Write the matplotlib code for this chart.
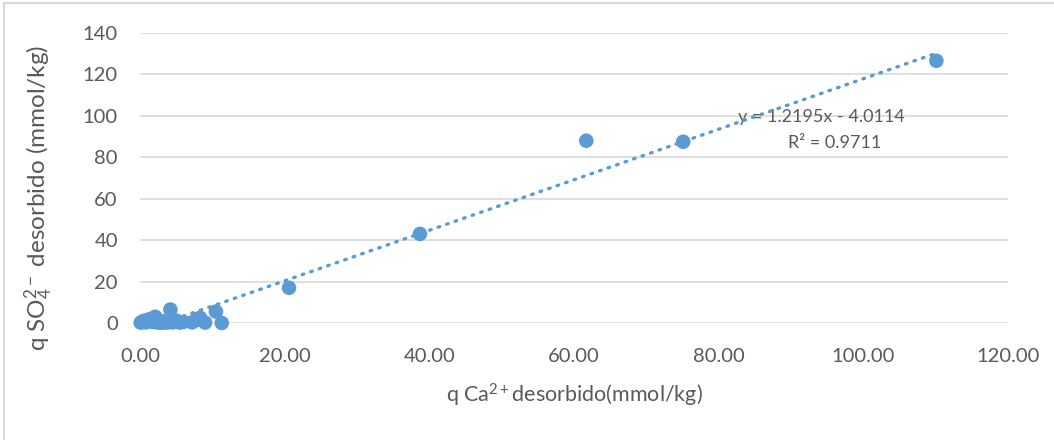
import matplotlib
matplotlib.use("Agg")
import matplotlib.pyplot as plt
from matplotlib.lines import Line2D

ca = [0.1, 0.3, 0.5, 0.8, 1.0, 1.2, 1.5, 1.8, 2.1, 2.4, 2.7, 3.0, 3.3, 3.7, 4.2,
      4.5, 5.0, 5.5, 6.0, 7.2, 7.8, 8.3, 9.0, 10.5, 11.3, 20.6, 38.7, 61.7, 75.1, 110.1]
so4 = [0.2, 0.5, 1.0, 0.3, 1.5, 0.8, 2.0, 0.5, 3.0, 0.2, 0.5, 0.1, 0.8, 0.2, 6.5,
       0.3, 1.2, 0.2, 0.5, 0.3, 1.5, 2.5, 0.2, 5.5, 0.0, 17.0, 43.0, 88.0, 87.5, 126.6]
slope, intercept = 1.2195, -4.0114
xticks = [0, 20, 40, 60, 80, 100, 120]
yticks = [0, 20, 40, 60, 80, 100, 120, 140]

blue = "#5B9BD5"
grid = "#D9D9D9"
txt = "#595959"
plt.rcParams['font.family'] = ['Lato', 'DejaVu Sans']
plt.rcParams['mathtext.fontset'] = 'custom'
plt.rcParams['mathtext.rm'] = 'Lato'
plt.rcParams['mathtext.it'] = 'Lato'
plt.rcParams['mathtext.default'] = 'regular'

fig = plt.figure(figsize=(10.54, 4.40), dpi=100)
ax = fig.add_axes([140/1054, 117/440, 868/1054, 290/440])
ax.set_xlim(0, 120)
ax.set_ylim(0, 140)
for s in ax.spines.values():
    s.set_visible(False)
for yv in yticks:
    ax.axhline(yv, color=grid, lw=1.2, zorder=0)

xmin, xmax = min(ca), max(ca)
ax.plot([xmin, xmax], [slope*xmin+intercept, slope*xmax+intercept], color=blue,
        lw=2.4, linestyle=(0, (0.5, 2.2)), dash_capstyle='round', zorder=3, clip_on=True)
ax.scatter(ca, so4, s=110, color=blue, edgecolors='none', zorder=2, clip_on=False)

ax.set_xticks(xticks)
ax.set_xticklabels([f"{v:.2f}" for v in xticks])
ax.set_yticks(yticks)
ax.set_yticklabels([str(v) for v in yticks])
ax.tick_params(length=0, labelsize=14.5, colors=txt)
ax.tick_params(axis='y', pad=16)
ax.tick_params(axis='x', pad=18)

ax.set_xlabel("q Ca$^{2+}$desorbido(mmol/kg)", fontsize=15.5, color=txt, labelpad=12)
ax.set_ylabel("q SO$_4^{2-}$ desorbido (mmol/kg)", fontsize=17.5, color=txt)
ax.yaxis.set_label_coords(-84/868, 0.43)

ax.text(94.2, 99.5, "y = 1.2195x - 4.0114", fontsize=13, color=txt, ha='center', va='center', zorder=1)
ax.text(96.0, 86.9, "R² = 0.9711", fontsize=13, color=txt, ha='center', va='center', zorder=1)

fig.add_artist(Line2D([4/1054, 1], [1-3/440, 1-3/440], color=grid, lw=1.5))
fig.add_artist(Line2D([4/1054, 4/1054], [0, 1-3/440], color=grid, lw=1.5))

fig.savefig("out.png", dpi=100, facecolor="white")
